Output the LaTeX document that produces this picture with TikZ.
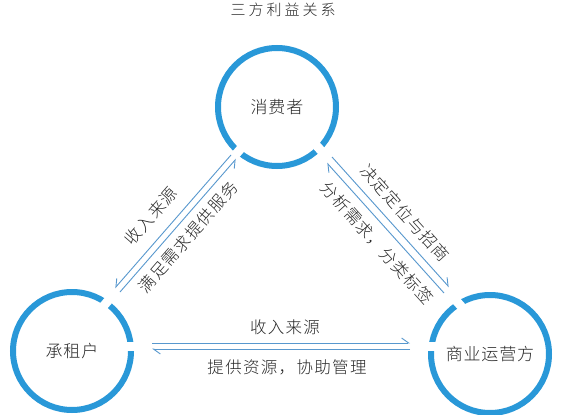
\documentclass[tikz,border=0pt]{standalone}
\usepackage{fontspec}
\setmainfont{Noto Sans CJK SC Light}
\newfontfamily\titlefont[LetterSpace=20]{Noto Sans CJK SC Light}
\newfontfamily\lblfont[LetterSpace=8]{Noto Sans CJK SC Light}
\newfontfamily\hubfont[LetterSpace=5]{Noto Sans CJK SC Light}
\usetikzlibrary{arrows.meta,calc}
\definecolor{ring}{RGB}{41,152,216}
\definecolor{linkc}{RGB}{88,152,206}
\definecolor{ink}{RGB}{40,40,40}
\begin{document}
\begin{tikzpicture}[x=1pt,y=-1pt,
  hub/.style={circle,draw=ring,line width=6pt,minimum size=118pt,inner sep=0pt,
    font=\hubfont\fontsize{17}{20}\selectfont,text=ink},
  lbl/.style={font=\lblfont\fontsize{16.5}{19}\selectfont,text=ink,inner sep=0pt},
  ttl/.style={font=\titlefont\fontsize{15}{18}\selectfont,text=ink,inner sep=0pt},
  linkline/.style={draw=linkc,line width=0.9pt},
  gapline/.style={draw=white,line width=9pt},
  tipleft/.style={-{Straight Barb[left,length=7pt,width=10pt]}},
  tipright/.style={-{Straight Barb[right,length=7pt,width=10pt]}}]
\useasboundingbox (0,0) rectangle (566,415);
\fill[white] (0,0) rectangle (566,415);

\node[ttl] (title) at (283,10) {三方利益关系};

\node[hub] (C) at (277,107) {消费者};
\node[hub] (L) at (72,351) {承租户};
\node[hub] (R) at (490,354) {商业运营方};

% pair mid points (gaps in the rings)
\coordinate (m1) at (233.5,157);
\coordinate (m2) at (117.5,290);
\coordinate (m3) at (329.5,160);
\coordinate (m4) at (446.5,290);
\coordinate (m5) at (152,346);
\coordinate (m6) at (410,346);
\draw[gapline] (m1) -- ($(m1)!-20pt!(m2)$);
\draw[gapline] (m2) -- ($(m2)!-26pt!(m1)$);
\draw[gapline] (m3) -- ($(m3)!-20pt!(m4)$);
\draw[gapline] (m4) -- ($(m4)!-26pt!(m3)$);
\draw[gapline] (m5) -- ($(m5)!-30pt!(m6)$);
\draw[gapline] (m6) -- ($(m6)!-30pt!(m5)$);

% connector end points
\coordinate (a1) at (231,155); \coordinate (a2) at (115,288);
\coordinate (b1) at (120,292); \coordinate (b2) at (236,159);
\coordinate (d1) at (332,157); \coordinate (d2) at (449,287);
\coordinate (e1) at (444,293); \coordinate (e2) at (327,163);
\coordinate (f1) at (152,343); \coordinate (f2) at (410,343);
\coordinate (g1) at (410,349); \coordinate (g2) at (152,349);

\draw[linkline,tipright] (a1) -- (a2);
\draw[linkline,tipright] (b1) -- (b2);
\draw[linkline,tipleft] (d1) -- (d2);
\draw[linkline,tipleft] (e1) -- (e2);
\draw[linkline,tipleft] (f1) -- (f2);
\draw[linkline,tipleft] (g1) -- (g2);

\node[lbl,rotate=49] (la) at (151,216) {收入来源};
\node[lbl,rotate=49] (lb) at (188,237) {满足需求提供服务};
\node[lbl,rotate=-48] (ld) at (405,213) {决定定位与招商};
\node[lbl,rotate=-48] (le) at (377,243) {分析需求，分类标签};
\node[lbl] (lf) at (285,327) {收入来源};
\node[lbl] (lg) at (287,367) {提供资源，协助管理};
\end{tikzpicture}
\end{document}
